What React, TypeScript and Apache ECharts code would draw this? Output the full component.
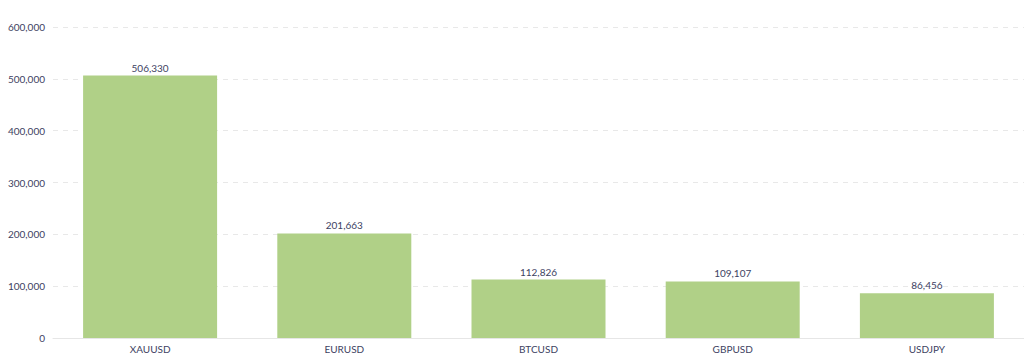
import React, { useEffect, useRef } from "react";
import * as echarts from "echarts";

const categories = ["XAUUSD", "EURUSD", "BTCUSD", "GBPUSD", "USDJPY"];
const values = [506330, 201663, 112826, 109107, 86456];
const yTicks = [0, 100000, 200000, 300000, 400000, 500000, 600000];

const fmt = (v: number) => v.toLocaleString("en-US");

export default function App() {
  const ref = useRef<HTMLDivElement>(null);
  useEffect(() => {
    const chart = echarts.init(ref.current!, null, { renderer: "svg" });
    chart.setOption({
      animation: false,
      textStyle: { fontFamily: "Lato" },
      grid: { left: 53, right: -2, top: 27, bottom: 26, containLabel: false },
      xAxis: {
        type: "category",
        data: categories,
        axisLine: { lineStyle: { color: "#e6e6e6" } },
        axisTick: { show: false },
        axisLabel: { color: "#3d4262", fontSize: 10, margin: 6, fontFamily: "Lato" },
      },
      yAxis: {
        type: "value",
        min: yTicks[0],
        max: yTicks[yTicks.length - 1],
        interval: 100000,
        axisLine: { show: false },
        axisTick: { show: false },
        axisLabel: {
          color: "#3d4262",
          fontSize: 10,
          margin: 8,
          fontFamily: "Lato",
          formatter: (v: number) => fmt(v),
        },
        splitLine: { lineStyle: { color: "#e8e8e8", type: [5, 5] } },
      },
      series: [
        {
          type: "bar",
          data: values,
          barWidth: 134,
          itemStyle: { color: "#b0d087" },
          label: {
            show: true,
            position: "top",
            distance: 3,
            color: "#3d4262",
            fontSize: 10,
            fontFamily: "Lato",
            formatter: (p: any) => fmt(p.value),
          },
        },
      ],
    });
    return () => chart.dispose();
  }, []);
  return (
    <div
      ref={ref}
      style={{ position: "fixed", left: 0, top: 0, width: 1024, height: 364, background: "#fff" }}
    />
  );
}
